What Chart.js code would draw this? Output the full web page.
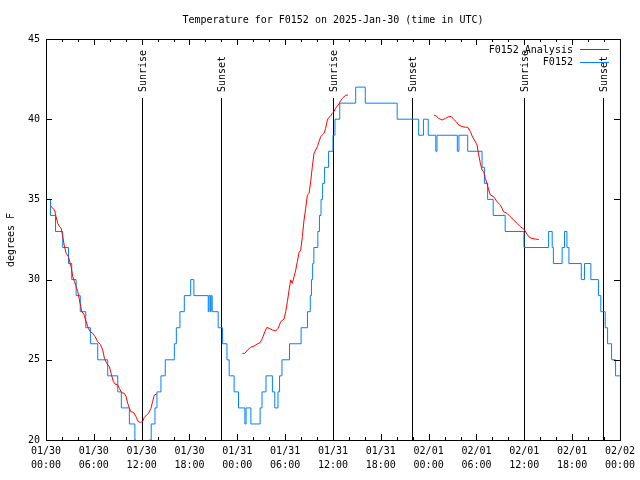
<!DOCTYPE html>
<html lang="en">
<head>
<meta charset="UTF-8">
<title>Temperature for F0152 on 2025-Jan-30</title>
<script src="https://cdn.jsdelivr.net/npm/chart.js"></script>
<style>
  body { margin: 0; background: #fff; }
</style>
</head>
<body>
<canvas id="tempChart" width="640" height="480"></canvas>

<script>
    // time axis is hours since 2025-01-30 00:00 UTC
    const tickDays  = ['01/30','01/30','01/30','01/30','01/31','01/31','01/31','01/31','02/01','02/01','02/01','02/01','02/02'];
    const tickClock = ['00:00','06:00','12:00','18:00','00:00','06:00','12:00','18:00','00:00','06:00','12:00','18:00','00:00'];

    // sunrise / sunset markers
    const sunHours  = [12.05, 21.9, 36.05, 45.95, 59.95, 69.85];
    const sunLabels = ['Sunrise','Sunset','Sunrise','Sunset','Sunrise','Sunset'];

    // F0152 observations (whole degrees, value holds from each hour until the next)
    const obsHours = [0,0.56,1.19,2.1,2.82,3.23,3.78,4.3,4.99,5.57,6.49,7.74,9.0,9.45,10.46,11.15,11.3,12.95,13.2,13.67,
        13.92,14.42,14.96,16.1,16.35,16.8,17.35,18.15,18.55,20.35,20.45,20.62,20.72,20.85,21.6,22.15,22.7,22.98,23.6,24.15,
        24.95,25.1,25.7,26.86,27.1,27.6,28.4,28.7,29.1,29.3,29.6,30.55,32.0,32.8,33.15,33.3,33.45,33.6,34.1,34.3,
        34.5,34.7,34.95,35.45,36.0,36.25,36.85,38.85,40.05,44.05,46.75,47.35,47.95,48.9,49.05,51.6,51.8,52.9,54.7,55.0,
        55.4,56.1,57.6,59.96,63.05,63.5,63.65,64.75,65.05,65.35,65.6,67.15,67.55,68.35,69.3,69.6,70.15,70.45,70.95,71.45,72];
    const obsTemps = [35,34,33,32,31,30,29,28,27,26,25,24,23,22,21,20,19,20,21,22,
        23,24,25,26,27,28,29,30,29,28,29,28,29,28,27,26,25,24,23,22,
        21,22,21,22,23,24,23,22,23,24,25,26,27,28,29,30,31,32,33,34,
        35,36,37,38,39,40,41,42,41,40,39,40,39,38,39,38,39,38,37,36,
        35,34,33,32,33,32,31,32,33,32,31,30,31,30,29,28,27,26,25,24,24];

    // F0152 analysis, three separate runs
    const anaHours1 = [0.56,1.06,1.27,1.48,1.69,1.9,2.1,2.3,2.53,2.82,3.15,3.36,3.57,3.78,3.99,4.19,4.49,4.74,5.03,5.32,
        5.57,5.87,6.16,6.49,6.82,7.12,7.33,7.62,7.95,8.16,8.45,8.66,8.99,9.2,9.49,9.83,10.04,10.25,10.46,10.66,
        11.0,11.29,11.58,11.83,12.12,12.33,12.62,12.87,13.17,13.37,13.59,13.88];
    const anaTemps1 = [34.6,34.34,33.92,33.5,33.3,33.2,32.68,32.1,31.64,31.43,30.8,30.18,29.87,29.56,29.25,28.73,28.0,27.86,27.38,26.96,
        26.75,26.65,26.44,26.13,25.96,25.61,25.09,24.78,24.57,24.16,23.64,23.49,23.43,23.22,22.95,22.91,22.7,22.29,21.98,21.76,
        21.72,21.45,21.14,21.1,21.14,21.41,21.56,21.66,21.98,22.39,22.8,22.87];
    const anaHours2 = [24.65,24.94,25.27,25.69,26.11,26.52,26.86,27.15,27.45,27.7,27.99,28.4,28.82,29.11,29.45,29.86,30.07,30.28,30.49,30.7,
        30.9,31.12,31.33,31.53,31.74,31.95,32.16,32.37,32.58,32.79,33.0,33.2,33.41,33.62,33.83,34.04,34.25,34.46,34.66,34.87,
        35.08,35.29,35.5,35.71,35.91,36.12,36.33,36.54,36.75,36.96,37.17,37.38,37.59,37.88];
    const anaTemps2 = [25.4,25.4,25.61,25.78,25.86,25.99,26.07,26.34,26.75,27.02,26.96,26.86,26.8,26.96,27.38,27.54,28.0,28.62,29.35,29.98,
        29.77,30.18,30.6,31.12,31.68,31.85,32.68,33.72,34.44,35.27,35.38,36.1,37.04,37.87,38.08,38.29,38.6,38.91,39.02,39.12,
        39.43,39.95,40.12,40.2,40.37,40.47,40.68,40.82,40.95,41.15,41.3,41.4,41.49,41.51];
    const anaHours3 = [48.65,48.94,49.27,49.69,50.11,50.53,50.86,51.15,51.44,51.78,52.19,52.61,52.9,53.24,53.53,53.86,54.07,54.28,54.49,54.7,
        54.91,55.12,55.32,55.53,55.75,56.16,56.57,57.0,57.41,57.83,58.25,58.67,59.08,59.5,59.79,60.04,60.33,60.63,60.96,61.38,61.83];
    const anaTemps3 = [40.26,40.2,40.05,39.95,40.05,40.16,40.16,39.99,39.85,39.64,39.54,39.5,39.5,39.22,38.87,38.6,38.39,37.77,37.25,36.83,
        36.73,36.31,36.0,35.59,35.27,35.17,34.86,34.65,34.23,34.13,33.92,33.72,33.51,33.3,33.2,33.09,32.84,32.64,32.57,32.53,32.5];

    const FONT = '"DejaVu Sans Mono", "Liberation Mono", monospace';
    const RED = '#ff0000';
    const BLUE = '#0080ff';

    const toPoints = (hs, ts) => hs.map((h, i) => ({x: h, y: ts[i]}));
    const anaPoints = [].concat(
        toPoints(anaHours1, anaTemps1), [{x: 18, y: null}],
        toPoints(anaHours2, anaTemps2), [{x: 43, y: null}],
        toPoints(anaHours3, anaTemps3));
    const obsPoints = toPoints(obsHours, obsTemps);

    // gnuplot-like frame: title, inward ticks, sun markers, legend
    const gnuFrame = {
        id: 'gnuFrame',
        beforeDatasetsDraw(chart) {
            const {ctx, chartArea: a, scales: {x}} = chart;
            ctx.save();
            ctx.strokeStyle = '#000';
            ctx.fillStyle = '#000';
            ctx.lineWidth = 1;
            ctx.font = '10px ' + FONT;
            sunHours.forEach((h, i) => {
                const px = Math.round(x.getPixelForValue(h)) + 0.5;
                ctx.beginPath();
                ctx.moveTo(px, a.bottom);
                ctx.lineTo(px, a.top + 59);
                ctx.stroke();
                ctx.save();
                ctx.translate(px + 1, a.top + 53);
                ctx.rotate(-Math.PI / 2);
                ctx.textAlign = 'left';
                ctx.textBaseline = 'middle';
                ctx.fillText(sunLabels[i], 0, 0);
                ctx.restore();
            });
            ctx.restore();
        },
        afterDraw(chart) {
            const {ctx, chartArea: a, scales: {x, y}} = chart;
            ctx.save();
            ctx.strokeStyle = '#000';
            ctx.fillStyle = '#000';
            ctx.lineWidth = 1;
            ctx.strokeRect(a.left + 0.5, a.top + 0.5, a.right - a.left, a.bottom - a.top);

            ctx.beginPath();
            x.ticks.forEach(t => {
                if (t.value <= x.min || t.value >= x.max) return;
                const px = Math.round(x.getPixelForValue(t.value)) + 0.5;
                const len = t.value % 6 === 0 ? 6 : 3;
                ctx.moveTo(px, a.bottom); ctx.lineTo(px, a.bottom - len);
                ctx.moveTo(px, a.top); ctx.lineTo(px, a.top + len);
            });
            y.ticks.forEach(t => {
                if (t.value <= y.min || t.value >= y.max) return;
                const py = Math.round(y.getPixelForValue(t.value)) + 0.5;
                ctx.moveTo(a.left, py); ctx.lineTo(a.left + 6, py);
                ctx.moveTo(a.right, py); ctx.lineTo(a.right - 6, py);
            });
            ctx.stroke();

            ctx.font = '10px ' + FONT;
            ctx.textAlign = 'center';
            ctx.textBaseline = 'middle';
            ctx.fillText('Temperature for F0152 on 2025-Jan-30 (time in UTC)', (a.left + a.right) / 2, 20);

            ctx.save();
            ctx.translate(11, 240);
            ctx.rotate(-Math.PI / 2);
            ctx.fillText('degrees F', 0, 0);
            ctx.restore();

            // legend, text left of sample line like gnuplot
            chart.data.datasets.forEach((ds, i) => {
                const ly = a.top + 11 + i * 12.5;
                ctx.textAlign = 'right';
                ctx.fillStyle = '#000';
                ctx.fillText(ds.label, a.right - 47, ly);
                ctx.strokeStyle = ds.borderColor;
                ctx.beginPath();
                ctx.moveTo(a.right - 40, Math.round(ly) - 0.5);
                ctx.lineTo(a.right - 11, Math.round(ly) - 0.5);
                ctx.stroke();
            });
            ctx.restore();
        }
    };

    const ctx = document.getElementById('tempChart').getContext('2d');
    const tempChart = new Chart(ctx, {
        type: 'line',
        data: {
            datasets: [{
                label: 'F0152 Analysis',
                data: anaPoints,
                borderColor: RED,
                borderWidth: 1,
                pointRadius: 0,
                spanGaps: false
            }, {
                label: 'F0152',
                data: obsPoints,
                borderColor: BLUE,
                borderWidth: 1,
                pointRadius: 0,
                stepped: 'before'
            }]
        },
        options: {
            responsive: false,
            animation: false,
            layout: { padding: { top: 39, right: 19, left: 0, bottom: 0 } },
            plugins: {
                legend: { display: false },
                title: { display: false },
                tooltip: { enabled: false }
            },
            scales: {
                x: {
                    type: 'linear',
                    min: 0,
                    max: 72,
                    afterFit: s => { s.height = 40; },
                    ticks: {
                        stepSize: 2,
                        autoSkip: false,
                        maxRotation: 0,
                        padding: 5,
                        color: '#000',
                        font: { family: FONT, size: 10, lineHeight: 1.35 },
                        callback: v => v % 6 === 0 ? [tickDays[v / 6], tickClock[v / 6]] : ''
                    },
                    grid: { drawOnChartArea: false, drawTicks: false },
                    border: { color: '#000' }
                },
                y: {
                    min: 20,
                    max: 45,
                    afterFit: s => { s.width = 46; },
                    ticks: {
                        stepSize: 5,
                        padding: 6,
                        color: '#000',
                        font: { family: FONT, size: 10 }
                    },
                    grid: { drawOnChartArea: false, drawTicks: false },
                    border: { color: '#000' }
                }
            }
        },
        plugins: [gnuFrame]
    });
</script>
</body>
</html>
